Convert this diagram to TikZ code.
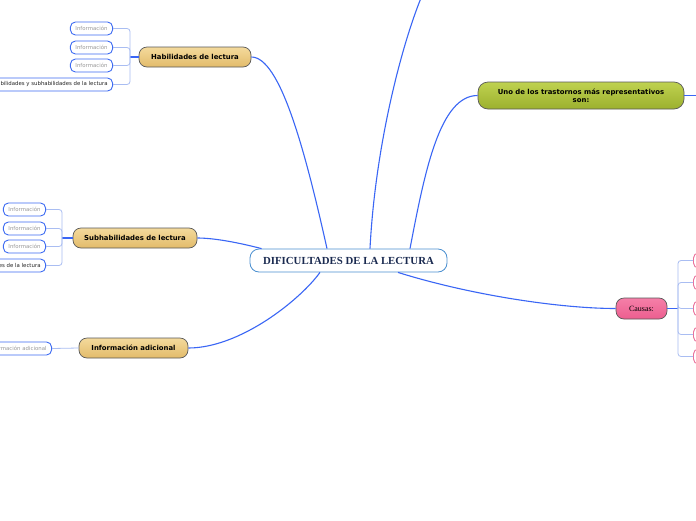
\documentclass[tikz,border=0pt]{standalone}
\usepackage{fontspec}
\setmainfont{DejaVu Sans}
\newfontfamily\seriffont{Liberation Serif}
\usetikzlibrary{positioning}

\definecolor{linkblue}{HTML}{3A66F5}
\definecolor{bracketblue}{HTML}{A9BDF2}
\definecolor{leafblue}{HTML}{3D6BF2}
\definecolor{rootblue}{HTML}{4A8FD0}
\definecolor{navy}{HTML}{1A2A50}
\definecolor{tantop}{HTML}{F4DA9C}
\definecolor{tanbot}{HTML}{E2BB6A}
\definecolor{olivetop}{HTML}{BFD250}
\definecolor{olivebot}{HTML}{9CB02E}
\definecolor{pinktop}{HTML}{F57FA8}
\definecolor{pinkbot}{HTML}{EC5E8F}
\definecolor{pinkline}{HTML}{E9709A}

\begin{document}
\begin{tikzpicture}[
  x=1pt, y=-1pt,
  topic/.style={
    rectangle, draw=black!65, line width=0.7pt,
    rounded corners=8pt,
    minimum height=20pt, inner sep=0pt,
    align=center, font=\fontsize{6.9}{7.8}\selectfont\bfseries
  },
  tan/.style={top color=tantop, bottom color=tanbot},
  olive/.style={top color=olivetop, bottom color=olivebot},
  pink/.style={top color=pinktop, bottom color=pinkbot},
  leaf/.style={
    rectangle, draw=leafblue, line width=0.9pt, fill=white,
    rounded corners=5pt,
    minimum height=13pt, inner sep=0pt, inner xsep=5pt,
    font=\fontsize{5.4}{6}\selectfont, text=black!40
  },
  leafdark/.style={leaf, text=black!85},
  link/.style={linkblue, line width=1.1pt},
  bracket/.style={bracketblue, line width=0.8pt, rounded corners=3pt}
]
  \clip (0,0) rectangle (696,520);
  \fill[white] (0,0) rectangle (696,520);

  % central topic
  \node[rectangle, draw=rootblue, line width=0.8pt, rounded corners=9pt,
        minimum width=197pt, minimum height=23pt, fill=white,
        font=\seriffont\fontsize{10.8}{11.5}\selectfont\bfseries, text=navy]
        (root) at (348.5,260.5) {DIFICULTADES DE LA LECTURA};

  % main topics
  \node[topic, tan, minimum width=112pt] (hab) at (195,57) {Habilidades de lectura};
  \node[topic, tan, minimum width=124pt] (sub) at (135,238) {Subhabilidades de lectura};
  \node[topic, tan, minimum width=109pt] (info) at (133.5,348) {Información adicional};
  \node[topic, olive, minimum width=206pt, minimum height=27pt, rounded corners=10pt]
        (uno) at (581,95.5) {Uno de los trastornos más representativos\\son:};
  \node[topic, pink, minimum width=51pt, minimum height=21pt,
        font=\seriffont\fontsize{8}{9}\selectfont] (causas) at (641.5,308.5) {Causas:};
  \coordinate (up) at (421,-2);
  \coordinate (unoend) at (700,95.5);

  % links from the central topic
  \draw[link] ([xshift=-21.5pt]root.north) .. controls (305,150) and (280,57) .. (hab.east);
  \draw[link] ([xshift=12pt]root.north west) .. controls (240,243) and (215,238) .. (sub.east);
  \draw[link] ([xshift=-28.5pt]root.south) .. controls (300,300) and (240,348) .. (info.east);
  \draw[link] ([xshift=21.5pt]root.north) .. controls (375,150) and (400,50) .. (up);
  \draw[link] ([xshift=61.5pt]root.north) .. controls (425,170) and (440,95.5) .. (uno.west);
  \draw[link] ([xshift=49.5pt]root.south) .. controls (470,295) and (560,308.5) .. (causas.west);
  \draw[link] (uno.east) -- (unoend);

  % leaves of Habilidades de lectura
  \coordinate (habfork) at (130,57);
  \foreach \n/\y in {1/28.5, 2/47.5, 3/65.5}
    \node[leaf, anchor=east] (hab\n) at (113,\y) {Información};
  \node[leafdark, anchor=east] (hab4) at (113,84.5) {Habilidades y subhabilidades de la lectura};
  \draw[link] (hab.west) -- (habfork);
  \foreach \n in {1,...,4}
    \draw[bracket] (habfork) |- (hab\n.east);

  % leaves of Subhabilidades de lectura
  \coordinate (subfork) at (62,238);
  \foreach \n/\y in {1/209.5, 2/228.5, 3/246.5}
    \node[leaf, anchor=east] (sub\n) at (46,\y) {Información};
  \node[leafdark, anchor=east] (sub4) at (46,265.5) {Subhabilidades de la lectura};
  \draw[link] (sub.west) -- (subfork);
  \foreach \n in {1,...,4}
    \draw[bracket] (subfork) |- (sub\n.east);

  % leaf of Información adicional
  \node[leaf, anchor=east] (info1) at (52,348.5) {Información adicional};
  \draw[bracket] (info.west) -- (info1.east);

  % leaves of Causas
  \coordinate (causfork) at (678,308.5);
  \foreach \n/\y in {1/260.5, 2/282.5, 3/308.5, 4/334.5, 5/356.5}
    \node[leaf, draw=pinkline, anchor=west, minimum width=20pt,
          minimum height=15pt] (caus\n) at (693,\y) {};
  \draw[link] (causas.east) -- (causfork);
  \foreach \n in {1,...,5}
    \draw[bracket] (causfork) |- (caus\n.west);
\end{tikzpicture}
\end{document}
